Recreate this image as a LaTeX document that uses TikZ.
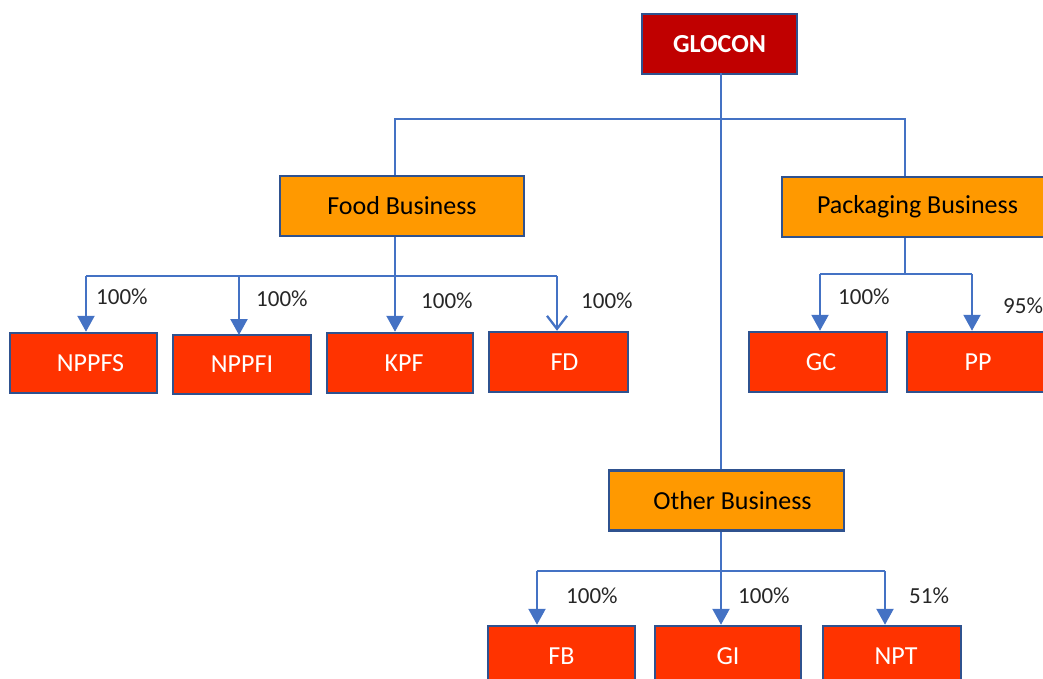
\documentclass[tikz,border=0pt]{standalone}
\usepackage{fontspec}
\setmainfont{Carlito}
\usetikzlibrary{arrows.meta}
\definecolor{ln}{HTML}{4472C4}
\definecolor{bd}{HTML}{2F528F}
\definecolor{top}{HTML}{C00000}
\definecolor{mid}{HTML}{FF9900}
\definecolor{leaf}{HTML}{FF3300}
\newcommand{\shifted}[2]{\hspace*{#1}#2\hspace*{-#1}}
\tikzset{
  box/.style={draw=bd, line width=2.5pt, minimum height=60pt, inner sep=0pt, font=\fontsize{26}{30}\selectfont},
  topbox/.style={box, fill=top, text=white, font=\fontsize{26}{30}\selectfont\bfseries},
  midbox/.style={box, fill=mid, text=black},
  leafbox/.style={box, fill=leaf, text=white},
  conn/.style={draw=ln, line width=2.3pt},
  arr/.style={conn, -{Triangle[length=16pt,width=17pt]}},
  oarr/.style={conn, -{Straight Barb[length=13pt,width=20pt,line width=2.3pt]}},
  pct/.style={anchor=west, inner sep=0pt, text=black!85, font=\fontsize{23}{27}\selectfont}
}
\begin{document}
\begin{tikzpicture}[x=1pt,y=-1pt]
\useasboundingbox (0,0) rectangle (1043,678);
\clip (0,0) rectangle (1043,678);
% nodes
\node[topbox, minimum width=155pt] (glocon) at (719.5,44) {GLOCON};
\node[midbox, minimum width=244pt] (food) at (402,206) {Food Business};
\node[midbox, minimum width=271pt] (pack) at (917.5,207) {Packaging Business};
\node[midbox, minimum width=235pt] (other) at (726.5,500.5) {\shifted{6pt}{Other Business}};
\node[leafbox, minimum width=147pt] (nppfs) at (83.5,363) {\shifted{7pt}{NPPFS}};
\node[leafbox, minimum width=138pt, minimum height=59pt] (nppfi) at (242,364.5) {NPPFI};
\node[leafbox, minimum width=146pt] (kpf) at (400,363) {\shifted{4pt}{KPF}};
\node[leafbox, minimum width=139pt] (fd) at (558.5,362) {\shifted{6pt}{FD}};
\node[leafbox, minimum width=138pt] (gc) at (818,362) {\shifted{3pt}{GC}};
\node[leafbox, minimum width=142pt] (pp) at (978,362) {PP};
\node[leafbox, minimum width=147pt] (fb) at (561.5,656) {FB};
\node[leafbox, minimum width=146pt] (gi) at (728,656) {GI};
\node[leafbox, minimum width=138pt] (npt) at (892,656) {\shifted{4pt}{NPT}};
% junction coordinates
\coordinate (gtop) at (721,73);
\coordinate (gj) at (721,119);
\coordinate (gl) at (395,119);
\coordinate (gr) at (905,119);
\coordinate (fj) at (395,276);
\coordinate (fl) at (86,276);
\coordinate (fr) at (557,276);
\coordinate (pj) at (905,274);
\coordinate (pl) at (820,274);
\coordinate (pr) at (972,274);
\coordinate (oj) at (721,571);
\coordinate (ol) at (537,571);
\coordinate (or) at (885,571);
% top level
\draw[conn] (gtop) -- (gtop |- other.north);
\draw[conn] (gl |- food.north) -- (gl) -- (gr) -- (gr |- pack.north);
% food
\draw[conn] (fj |- food.south) -- (fj);
\draw[conn] (fl) -- (fr);
\draw[arr] (fl) -- (fl |- nppfs.north);
\draw[arr] (239,276) -- (239,335);
\draw[arr] (fj) -- (fj |- kpf.north);
\draw[oarr] (fr) -- (fr |- fd.north);
% packaging
\draw[conn] (pj |- pack.south) -- (pj);
\draw[conn] (pl) -- (pr);
\draw[arr] (pl) -- (pl |- gc.north);
\draw[arr] (pr) -- (pr |- pp.north);
% other
\draw[conn] (oj |- other.south) -- (oj);
\draw[conn] (ol) -- (or);
\draw[arr] (ol) -- (ol |- fb.north);
\draw[arr] (oj) -- (oj |- gi.north);
\draw[arr] (or) -- (or |- npt.north);
% labels
\node[pct] (l1) at (96,297) {100\%};
\node[pct] (l2) at (256,299) {100\%};
\node[pct] (l3) at (421,301) {100\%};
\node[pct] (l4) at (581,301) {100\%};
\node[pct] (l5) at (838,297) {100\%};
\node[pct] (l6) at (1003,306) {95\%};
\node[pct] (l7) at (566,596) {100\%};
\node[pct] (l8) at (738,596) {100\%};
\node[pct] (l9) at (909,596) {51\%};
\end{tikzpicture}
\end{document}
